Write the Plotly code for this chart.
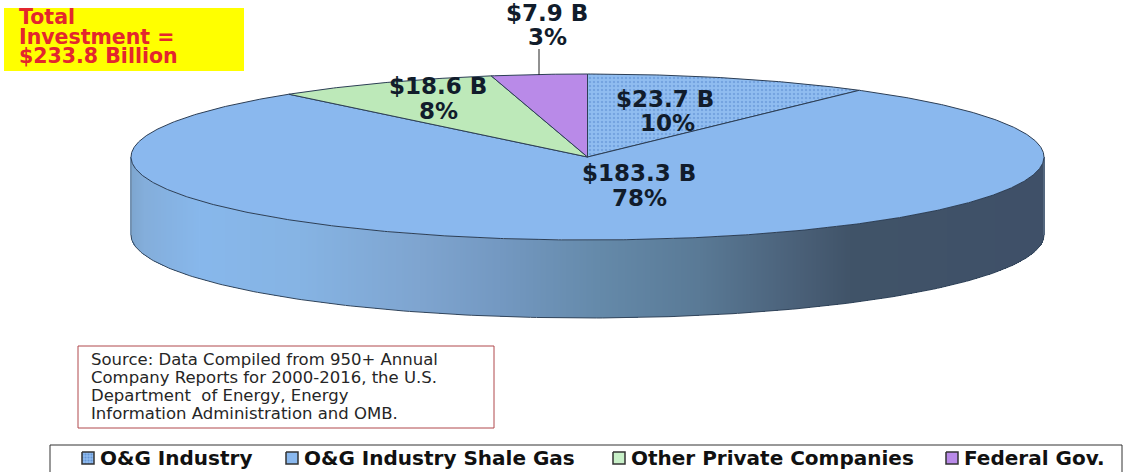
import numpy as np
import plotly.graph_objects as go

# ---- data ----
CATEGORIES = ["O&G Industry", "O&G Industry Shale Gas", "Other Private Companies", "Federal Gov."]
VALUES = [23.7, 183.3, 18.6, 7.9]
PERCENTS = [10, 78, 8, 3]
TOTAL_LINES = ["Total", "Investment =", "$233.8 Billion"]
SOURCE_LINES = ["Source: Data Compiled from 950+ Annual",
                "Company Reports for 2000-2016, the U.S.",
                "Department  of Energy, Energy",
                "Information Administration and OMB."]

# ---- style / geometry ----
W, H = 1131, 472
CX, CY, RX, RY, DEPTH = 587.5, 157, 456.5, 83, 78
COLORS = ["#8ab8ee", "#8ab8ee", "#bde9b9", "#b98ae8"]
KEY_COLORS = ["#8ab8ee", "#8ab8ee", "#c8f0c8", "#b98ae8"]
EDGE = "#2c3e55"
LABEL_POS = [(665, 99, 667, 123), (639, 173, 639, 198), (438, 86, 438, 111), (547, 13, 547, 37)]
KEY_X = [82, 286, 613, 946]
GRAD_STOPS = [(131, "#7da6cf"), (145, "#84aedb"), (200, "#88b8ec"), (300, "#86b4e4"),
              (420, "#7fa5d0"), (500, "#7499c2"), (600, "#658aaa"), (700, "#5a7a96"),
              (800, "#4a6078"), (850, "#415469"), (1044, "#3f5068")]


def hex_rgb(c):
    return [int(c[i:i + 2], 16) for i in (1, 3, 5)]


def side_colors(xs):
    px = [s[0] for s in GRAD_STOPS]
    rgb = np.array([hex_rgb(s[1]) for s in GRAD_STOPS], float)
    return ["rgb(%d,%d,%d)" % tuple(np.interp(x, px, rgb[:, k]) for k in range(3)) for x in xs]


fig = go.Figure()

# cylinder side: one thin bar per pixel column, from the front rim down by the depth
bar_x = np.arange(CX - RX, CX + RX + 1, 1.0)
rim = CY + RY * np.sqrt(np.clip(1 - ((bar_x - CX) / RX) ** 2, 0, 1))
fig.add_trace(go.Bar(x=bar_x, y=[DEPTH] * len(bar_x), base=rim, width=1.0,
                     marker=dict(color=side_colors(bar_x), line_width=0),
                     hoverinfo="skip", showlegend=False))
# lower outline of the side
t = np.linspace(0, np.pi, 240)
fig.add_trace(go.Scatter(x=CX + RX * np.cos(t), y=CY + DEPTH + RY * np.sin(t), mode="lines",
                         line=dict(color="#33465c", width=1), hoverinfo="skip", showlegend=False))
for sx in (CX - RX, CX + RX):
    fig.add_trace(go.Scatter(x=[sx, sx], y=[CY, CY + DEPTH], mode="lines",
                             line=dict(color="#6b7f95", width=1), hoverinfo="skip", showlegend=False))

# top face: wedges clockwise from 12 o'clock, sized by the values
total = sum(VALUES)
start = 0.0
for i, (name, v) in enumerate(zip(CATEGORIES, VALUES)):
    a = np.linspace(start, start + v / total * 2 * np.pi, max(8, int(v * 4)))
    start = a[-1]
    xs = np.r_[CX, CX + RX * np.sin(a), CX]
    ys = np.r_[CY, CY - RY * np.cos(a), CY]
    kw = {}
    if i == 0:
        kw["fillpattern"] = dict(shape=".", size=4, solidity=0.3, fgcolor="#5a8ad0", bgcolor="#90bdf0")
    fig.add_trace(go.Scatter(x=xs, y=ys, mode="lines", fill="toself", fillcolor=COLORS[i],
                             line=dict(color=EDGE, width=1), name=name,
                             hovertext=f"{name}: ${v} B", hoverinfo="text",
                             showlegend=False, **kw))

# legend keys
for i, name in enumerate(CATEGORIES):
    kx = KEY_X[i]
    kw = {}
    if i == 0:
        kw["fillpattern"] = dict(shape=".", size=3, solidity=0.4, fgcolor="#3f70b8", bgcolor="#8fbcf0")
    fig.add_trace(go.Scatter(x=[kx, kx + 12, kx + 12, kx, kx], y=[452, 452, 464, 464, 452],
                             mode="lines", fill="toself", fillcolor=KEY_COLORS[i],
                             line=dict(color="#333333", width=1.5), hoverinfo="skip",
                             showlegend=False, **kw))

FONT_B = "DejaVu Sans"
ann = []


def txt(x, y, s, size, color="#111c2b", anchor="center", bold=True, family=FONT_B):
    ann.append(dict(x=x, y=y, xref="x", yref="y", text=f"<b>{s}</b>" if bold else s, showarrow=False,
                    xanchor=anchor, yanchor="middle",
                    font=dict(family=family, size=size, color=color)))


for v, p, (x1, y1, x2, y2) in zip(VALUES, PERCENTS, LABEL_POS):
    txt(x1, y1, f"${v} B", 23)
    txt(x2, y2, f"{p}%", 23)

for line, y in zip(TOTAL_LINES, [17, 37, 56]):
    txt(17, y, line, 20.5, color="#e3262e", anchor="left")
for line, y in zip(SOURCE_LINES, [359, 377, 395, 413]):
    txt(89, y, line, 16.5, color="#262626", anchor="left", bold=False)
for name, kx in zip(CATEGORIES, KEY_X):
    txt(kx + 16, 458, name, 20, color="#111111", anchor="left")

shapes = [
    dict(type="rect", x0=4, x1=244, y0=8, y1=71, fillcolor="#ffff00", line_width=0, layer="below"),
    dict(type="rect", x0=78, x1=494, y0=346, y1=428, fillcolor="white",
         line=dict(color="#b0484c", width=1), layer="below"),
    dict(type="rect", x0=50, x1=1122, y0=445, y1=474, fillcolor="white",
         line=dict(color="#333333", width=1), layer="below"),
    dict(type="line", x0=539, x1=539, y0=49, y1=75, line=dict(color="#222222", width=1)),
]

fig.update_layout(
    width=W, height=H, margin=dict(l=0, r=0, t=0, b=0),
    paper_bgcolor="white", plot_bgcolor="white", showlegend=False,
    xaxis=dict(range=[0, W], visible=False, fixedrange=True),
    yaxis=dict(range=[H, 0], visible=False, fixedrange=True),
    annotations=ann, shapes=shapes, bargap=0,
)
fig.write_html("out.html", config=dict(displayModeBar=False),
               post_script="document.body.style.margin='0';document.documentElement.style.overflow='hidden';")
